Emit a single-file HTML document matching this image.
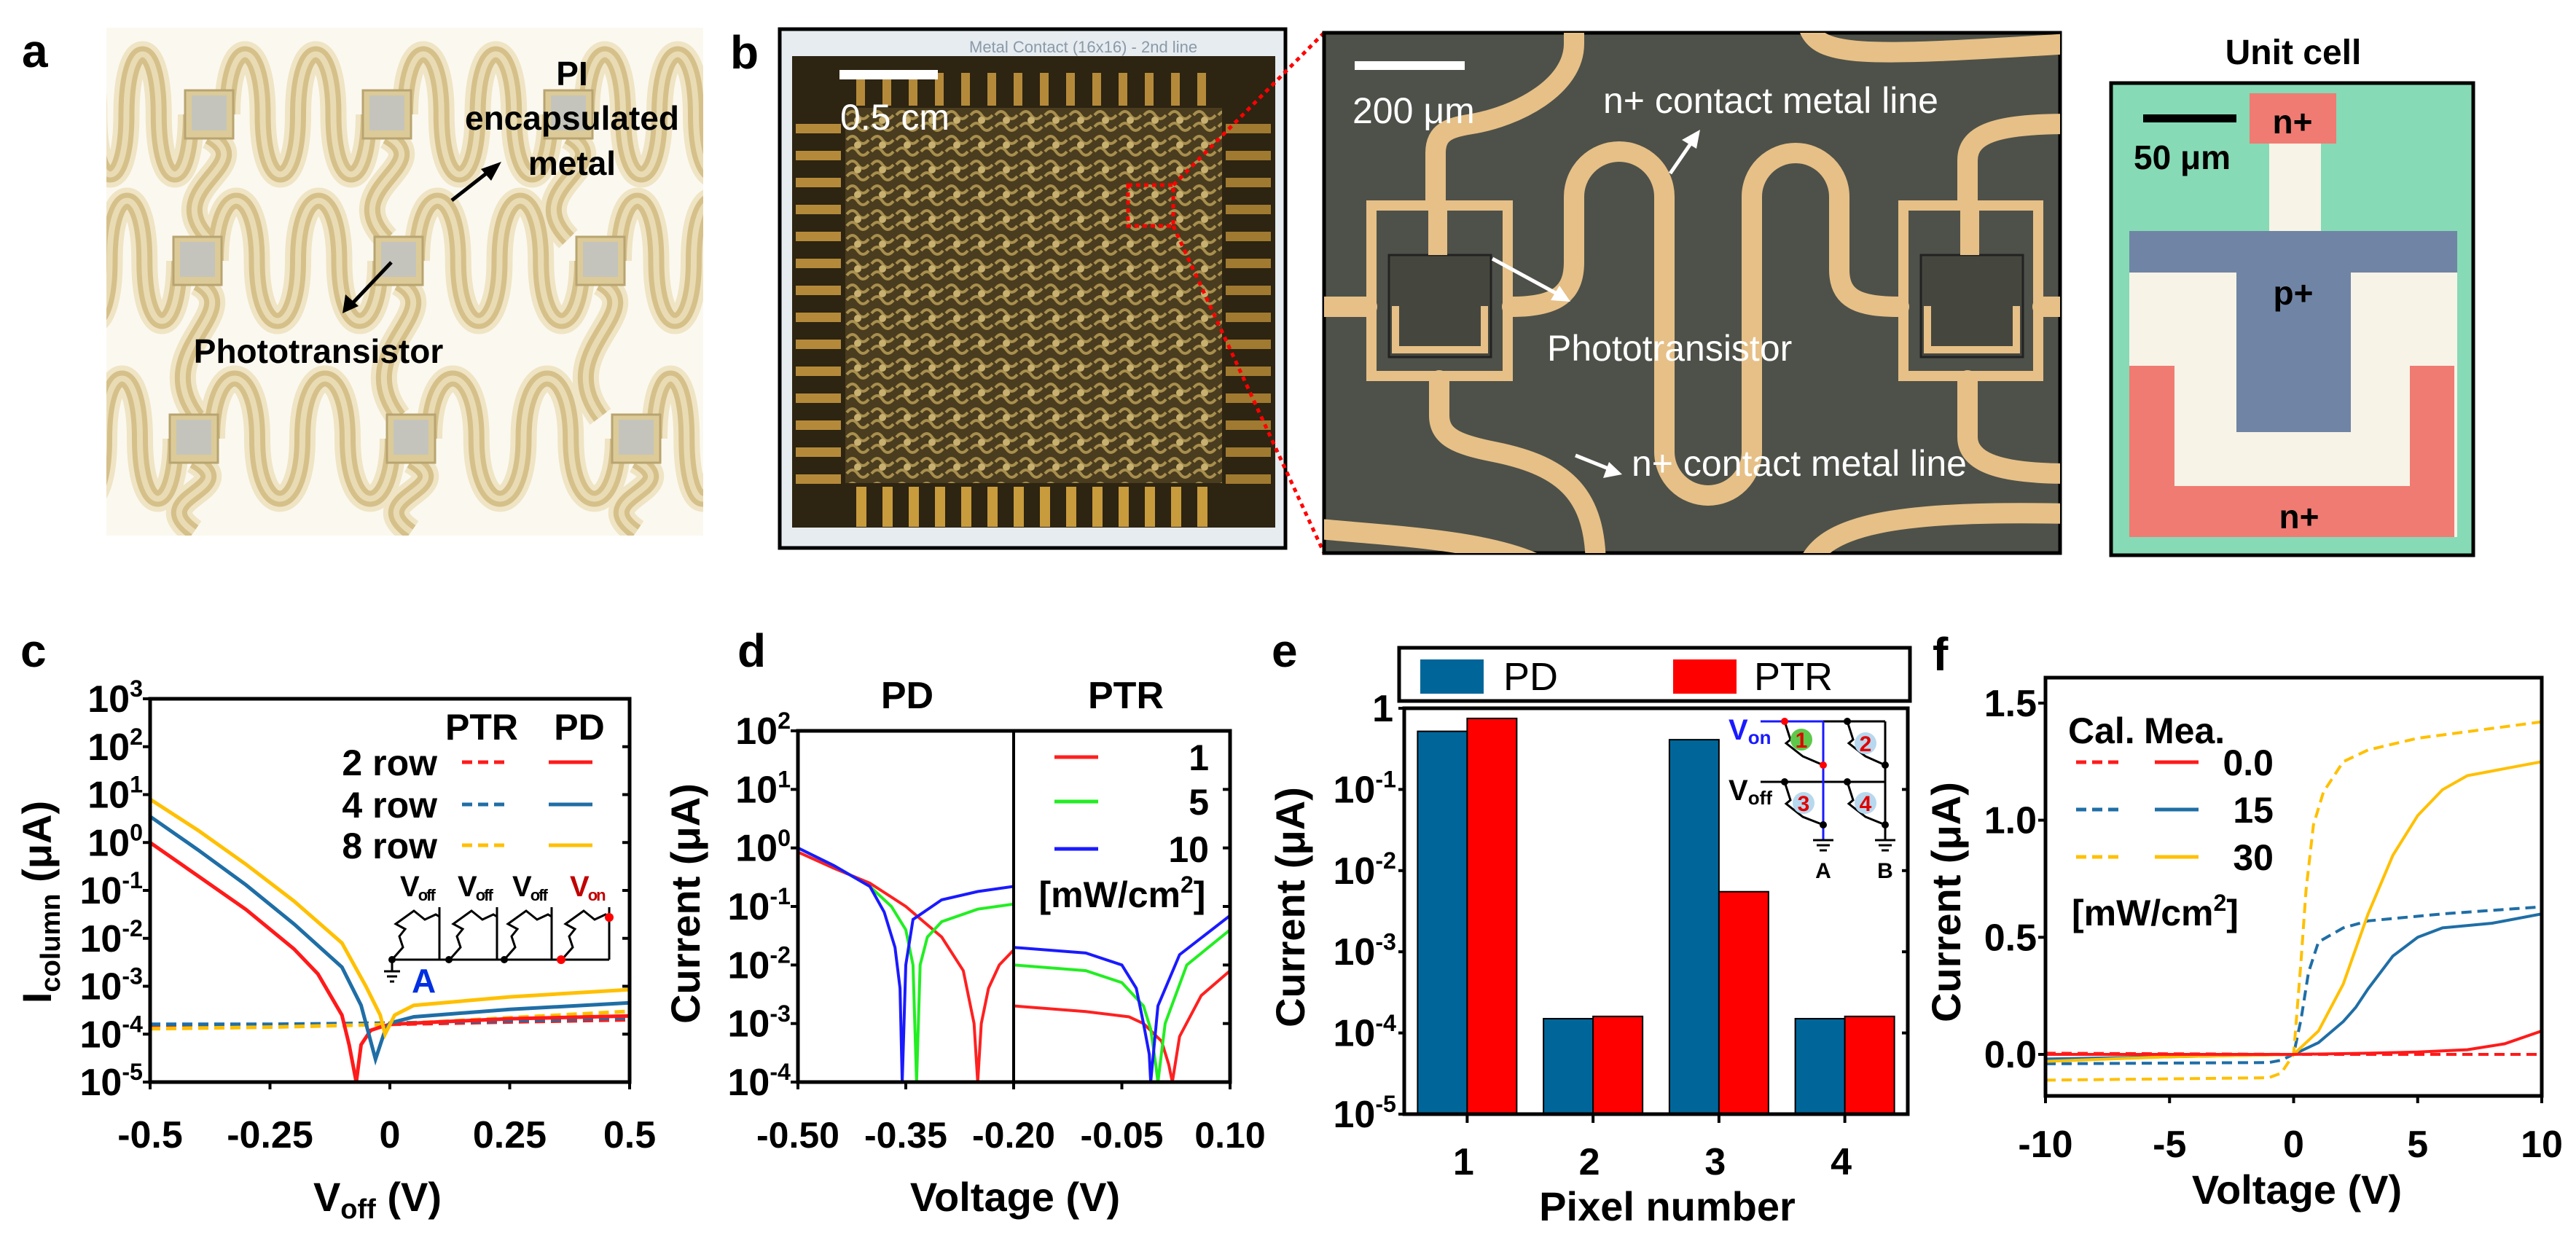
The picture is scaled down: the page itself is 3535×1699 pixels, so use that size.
<!DOCTYPE html>
<html><head><meta charset="utf-8"><style>
html,body{margin:0;padding:0;background:#fff;}
svg{display:block;font-family:"Liberation Sans",Arial,sans-serif;}
text{font-family:"Liberation Sans",Arial,sans-serif;}
</style></head><body>
<svg id="fig" width="3535" height="1699" viewBox="0 0 3535 1699" xmlns="http://www.w3.org/2000/svg">
<defs>
<clipPath id="clipA"><rect x="146" y="38" width="819" height="697"/></clipPath>
<clipPath id="clipM"><rect x="1817" y="45" width="1010" height="714"/></clipPath>
<pattern id="arr" x="1160" y="148" width="34" height="34" patternUnits="userSpaceOnUse">
<rect width="34" height="34" fill="#4a3c1e"/>
<path d="M2,10 Q10,0 17,10 T32,10 M2,26 Q10,16 17,26 T32,26" stroke="#a88f4e" stroke-width="4" fill="none"/>
<circle cx="17" cy="17" r="5" fill="#c8b070"/>
</pattern>
<clipPath id="clipC"><rect x="206" y="959" width="658" height="526"/></clipPath>
<clipPath id="clipD1"><rect x="1095" y="1003" width="296" height="482"/></clipPath>
<clipPath id="clipD2"><rect x="1391" y="1003" width="297" height="482"/></clipPath>
<clipPath id="clipF"><rect x="2807" y="930" width="681" height="574"/></clipPath>
</defs>

<text x="30" y="92" font-size="64" font-weight="bold">a</text>
<text x="1002" y="94" font-size="64" font-weight="bold">b</text>
<text x="28" y="915" font-size="64" font-weight="bold">c</text>
<text x="1012" y="915" font-size="64" font-weight="bold">d</text>
<text x="1745" y="915" font-size="64" font-weight="bold">e</text>
<text x="2652" y="920" font-size="64" font-weight="bold">f</text>

<g>
<rect x="146" y="38" width="819" height="697" fill="#fbf8ef"/>
<g id="aMeander" clip-path="url(#clipA)"></g>
<text x="785" y="117" font-size="46" font-weight="bold" text-anchor="middle">PI</text>
<text x="785" y="178" font-size="46" font-weight="bold" text-anchor="middle">encapsulated</text>
<text x="785" y="240" font-size="46" font-weight="bold" text-anchor="middle">metal</text>
<line x1="620" y1="275" x2="675" y2="232" stroke="#000" stroke-width="5"/>
<polygon points="688,222 660,232 674,248" fill="#000"/>
<line x1="537" y1="360" x2="482" y2="418" stroke="#000" stroke-width="5"/>
<polygon points="470,430 474,404 492,420" fill="#000"/>
<text x="437" y="498" font-size="46" font-weight="bold" text-anchor="middle">Phototransistor</text>
</g>

<g>
<rect x="1070" y="40" width="694" height="712" fill="#e6ecf0" stroke="#000" stroke-width="5"/>
<text x="1330" y="72" font-size="22" fill="#8a9aa8">Metal Contact (16x16) - 2nd line</text>
<rect x="1087" y="77" width="663" height="647" fill="#2d2412"/>
<g id="pads"></g>
<rect x="1160" y="148" width="517" height="515" fill="url(#arr)"/>
<rect x="1152" y="96" width="135" height="13" fill="#fff"/>
<text x="1153" y="178" font-size="50" fill="#fff">0.5 cm</text>
<rect x="1548" y="254" width="62" height="56" fill="none" stroke="#f00" stroke-width="5" stroke-dasharray="6,5"/>
</g>
<line x1="1610" y1="254" x2="1817" y2="45" stroke="#f00" stroke-width="5" stroke-dasharray="6,6"/>
<line x1="1610" y1="310" x2="1817" y2="759" stroke="#f00" stroke-width="5" stroke-dasharray="6,6"/>

<g>
<rect x="1817" y="45" width="1010" height="714" fill="#4e5149" stroke="#000" stroke-width="5"/>
<g clip-path="url(#clipM)" fill="none" stroke="#e6c087" stroke-width="28" stroke-linecap="round">
<path d="M1800,421 L1876,421 M2075,421 C2140,421 2160,400 2160,360 L2160,270 A62,62 0 0 1 2284,270 L2284,620 A60,60 0 0 0 2404,620 L2404,270 A60,60 0 0 1 2524,270 L2524,370 C2524,410 2550,421 2606,421 M2803,421 L2840,421"/>
<path d="M1970,276 L1970,210 C1970,180 1990,175 2020,170 C2080,160 2160,120 2160,60 L2160,30"/>
<path d="M1975,522 L1975,570 C1975,600 2000,610 2050,620 C2150,640 2190,680 2190,780"/>
<path d="M2480,30 C2490,80 2550,78 2840,60"/>
<path d="M1800,725 C1900,735 2050,740 2120,780"/>
<path d="M2700,276 L2700,220 C2700,180 2750,170 2840,170"/>
<path d="M2700,522 L2700,600 C2700,640 2760,650 2840,650"/>
<path d="M2480,780 C2500,720 2600,700 2840,705"/>
</g>
<g fill="none" stroke="#e6c087" stroke-width="14">
<rect x="1882" y="282" width="187" height="234"/>
<rect x="2612" y="282" width="185" height="234"/>
</g>
<rect x="1906" y="350" width="140" height="140" fill="#45473f" stroke="#222" stroke-width="3"/>
<rect x="2636" y="350" width="140" height="140" fill="#45473f" stroke="#222" stroke-width="3"/>
<path d="M1915,420 L1915,480 L2037,480 L2037,420" fill="none" stroke="#e6c087" stroke-width="10"/>
<path d="M2645,420 L2645,480 L2767,480 L2767,420" fill="none" stroke="#e6c087" stroke-width="10"/>
<rect x="1960" y="285" width="26" height="65" fill="#e6c087"/>
<rect x="2690" y="285" width="26" height="65" fill="#e6c087"/>
<rect x="1859" y="84" width="151" height="12" fill="#fff"/>
<text x="1856" y="169" font-size="50" fill="#fff">200 μm</text>
<text x="2200" y="155" font-size="50" fill="#fff">n+ contact metal line</text>
<line x1="2292" y1="238" x2="2325" y2="190" stroke="#fff" stroke-width="5"/>
<polygon points="2333,178 2308,192 2328,204" fill="#fff"/>
<text x="2123" y="495" font-size="50" fill="#fff">Phototransistor</text>
<line x1="2048" y1="355" x2="2140" y2="405" stroke="#fff" stroke-width="5"/>
<polygon points="2155,414 2128,412 2140,392" fill="#fff"/>
<text x="2239" y="653" font-size="50" fill="#fff">n+ contact metal line</text>
<line x1="2162" y1="625" x2="2212" y2="645" stroke="#fff" stroke-width="5"/>
<polygon points="2226,651 2200,656 2208,634" fill="#fff"/>
</g>

<g>
<text x="3147" y="88" font-size="48" font-weight="bold" text-anchor="middle">Unit cell</text>
<rect x="2897" y="114" width="497" height="648" fill="#86dab6" stroke="#000" stroke-width="5"/>
<rect x="2922" y="317" width="450" height="420" fill="#f7f3e6"/>
<rect x="3114" y="197" width="71" height="120" fill="#f7f3e6"/>
<rect x="3087" y="128" width="119" height="69" fill="#ef7b73"/>
<path d="M2922,502 L2984,502 L2984,667 L3307,667 L3307,502 L3368,502 L3368,737 L2922,737 Z" fill="#ef7b73"/>
<rect x="2922" y="317" width="450" height="57" fill="#7085a5"/>
<rect x="3069" y="374" width="157" height="219" fill="#7085a5"/>
<rect x="2941" y="157" width="128" height="11" fill="#000"/>
<text x="2928" y="232" font-size="46" font-weight="bold">50 μm</text>
<text x="3146" y="183" font-size="46" font-weight="bold" text-anchor="middle">n+</text>
<text x="3147" y="418" font-size="46" font-weight="bold" text-anchor="middle">p+</text>
<text x="3155" y="725" font-size="46" font-weight="bold" text-anchor="middle">n+</text>
</g>

<g id="charts"></g>
</svg>

<script>
const cXTicks = [-0.5, -0.25, 0, 0.25, 0.5];
const cXTickLabels = ["-0.5", "-0.25", "0", "0.25", "0.5"];
const cYDecades = [-5, -4, -3, -2, -1, 0, 1, 2, 3];
const c2rowPD_x = [-0.5, -0.4, -0.3, -0.2, -0.15, -0.1, -0.085, -0.07, -0.06, -0.04, -0.02, 0, 0.1, 0.25, 0.5];
const c2rowPD_y = [1, 0.2, 0.04, 0.006, 0.0018, 0.00025, 0.00006, 0.00001, 0.00006, 0.00012, 0.00014, 0.00016, 0.00018, 0.00021, 0.00024];
const c4rowPD_x = [-0.5, -0.4, -0.3, -0.2, -0.1, -0.06, -0.03, -0.01, 0, 0.05, 0.25, 0.5];
const c4rowPD_y = [3.5, 0.7, 0.13, 0.02, 0.0025, 0.0004, 0.00003, 0.00012, 0.00017, 0.00023, 0.00033, 0.00045];
const c8rowPD_x = [-0.5, -0.4, -0.3, -0.2, -0.1, -0.05, -0.02, -0.01, 0.01, 0.05, 0.25, 0.5];
const c8rowPD_y = [8, 1.8, 0.35, 0.06, 0.008, 0.001, 0.00025, 0.0001, 0.00025, 0.0004, 0.0006, 0.00085];
const cPTR_x = [-0.5, -0.25, 0, 0.25, 0.5];
const c2rowPTR_y = [0.00015, 0.00015, 0.00016, 0.00018, 0.0002];
const c4rowPTR_y = [0.00016, 0.00016, 0.00017, 0.00019, 0.00022];
const c8rowPTR_y = [0.00013, 0.00014, 0.00016, 0.00022, 0.0003];

const dPDTicks = [-0.5, -0.35, -0.2];
const dPDTickLabels = ["-0.50", "-0.35", "-0.20"];
const dPTRTicks = [-0.05, 0.1];
const dPTRTickLabels = ["-0.05", "0.10"];
const dYDecades = [-4, -3, -2, -1, 0, 1, 2];
const dPD1_x = [-0.5, -0.45, -0.4, -0.35, -0.3, -0.27, -0.255, -0.25, -0.245, -0.235, -0.22, -0.2];
const dPD1_y = [0.85, 0.45, 0.25, 0.1, 0.03, 0.008, 0.001, 0.0001, 0.001, 0.004, 0.01, 0.018];
const dPD5_x = [-0.5, -0.45, -0.4, -0.37, -0.35, -0.34, -0.335, -0.33, -0.32, -0.3, -0.25, -0.2];
const dPD5_y = [1, 0.5, 0.22, 0.1, 0.04, 0.01, 0.0001, 0.01, 0.03, 0.055, 0.09, 0.11];
const dPD10_x = [-0.5, -0.45, -0.4, -0.38, -0.365, -0.358, -0.355, -0.35, -0.34, -0.3, -0.25, -0.2];
const dPD10_y = [1, 0.5, 0.22, 0.08, 0.02, 0.004, 0.0001, 0.01, 0.06, 0.13, 0.18, 0.22];
const dPTR1_x = [-0.2, -0.1, -0.04, -0.02, 0.005, 0.015, 0.02, 0.03, 0.06, 0.1];
const dPTR1_y = [0.002, 0.0016, 0.0013, 0.001, 0.0005, 0.0002, 0.0001, 0.0006, 0.003, 0.008];
const dPTR5_x = [-0.2, -0.1, -0.05, -0.02, -0.01, -0.003, 0.0, 0.01, 0.04, 0.1];
const dPTR5_y = [0.01, 0.008, 0.005, 0.002, 0.0008, 0.0002, 0.0001, 0.001, 0.01, 0.04];
const dPTR10_x = [-0.2, -0.1, -0.05, -0.03, -0.02, -0.012, -0.01, 0.0, 0.03, 0.1];
const dPTR10_y = [0.02, 0.016, 0.01, 0.004, 0.001, 0.0003, 0.0001, 0.002, 0.015, 0.07];

const eCategories = ["1", "2", "3", "4"];
const ePD = [0.52, 0.00015, 0.41, 0.00015];
const ePTR = [0.75, 0.00016, 0.0055, 0.00016];
const eYDecades = [-5, -4, -3, -2, -1, 0];

const fXTicks = [-10, -5, 0, 5, 10];
const fYTicks = [0, 0.5, 1.0, 1.5];
const fYTickLabels = ["0.0", "0.5", "1.0", "1.5"];
const f0Mea_x = [-10, -5, 0, 3, 5, 7, 8.5, 10];
const f0Mea_y = [0.0, 0.0, 0.0, 0.005, 0.01, 0.02, 0.045, 0.1];
const f0Cal_x = [-10, 0, 10];
const f0Cal_y = [0.005, 0.0, 0.0];
const f15Cal_x = [-10, -1, -0.5, 0, 0.3, 0.6, 1, 2, 3, 6, 10];
const f15Cal_y = [-0.04, -0.035, -0.025, 0, 0.15, 0.35, 0.48, 0.54, 0.57, 0.6, 0.63];
const f15Mea_x = [-10, -5, 0, 1, 2, 2.5, 3, 4, 5, 6, 8, 10];
const f15Mea_y = [-0.02, -0.01, 0, 0.05, 0.14, 0.2, 0.28, 0.42, 0.5, 0.54, 0.56, 0.6];
const f30Cal_x = [-10, -1, -0.5, 0, 0.3, 0.5, 0.8, 1.2, 2, 3, 5, 10];
const f30Cal_y = [-0.11, -0.1, -0.08, 0, 0.4, 0.7, 0.98, 1.12, 1.25, 1.3, 1.35, 1.42];
const f30Mea_x = [-10, -5, 0, 1, 2, 2.5, 3, 4, 5, 6, 7, 8, 10];
const f30Mea_y = [-0.03, -0.01, 0, 0.1, 0.3, 0.45, 0.6, 0.85, 1.02, 1.13, 1.19, 1.21, 1.25];

const NS = "http://www.w3.org/2000/svg";
const root = document.getElementById("charts");
function mk(tag, attrs, parent) {
  const e = document.createElementNS(NS, tag);
  for (const k in attrs) e.setAttribute(k, attrs[k]);
  (parent || root).appendChild(e);
  return e;
}
function txt(x, y, s, size, anchor, parent, weight) {
  const t = mk("text", {x: x, y: y, "font-size": size, "text-anchor": anchor || "start", "font-weight": weight || "bold"}, parent);
  t.textContent = s;
  return t;
}
function powLabel(x, y, exp, size, parent) {
  const t = mk("text", {x: x, y: y, "font-size": size, "text-anchor": "end", "font-weight": "bold"}, parent);
  const a = document.createElementNS(NS, "tspan"); a.textContent = "10"; t.appendChild(a);
  const b = document.createElementNS(NS, "tspan"); b.setAttribute("dy", -size * 0.4); b.setAttribute("font-size", size * 0.62); b.textContent = String(exp); t.appendChild(b);
  return t;
}
function polyPath(xs, ys, fx, fy) {
  let d = "";
  for (let i = 0; i < xs.length; i++) d += (i ? "L" : "M") + fx(xs[i]).toFixed(1) + "," + fy(ys[i]).toFixed(1);
  return d;
}

(function () {
  const g = mk("g", {});  
  const X = v => 206 + (v + 0.5) * 658;
  const Y = lg => 1485 - (lg + 5) * 65.75;
  const Yv = v => Y(Math.log10(v));
  const cg = mk("g", {"clip-path": "url(#clipC)", fill: "none", "stroke-width": 5}, g);
  const series = [
    [cPTR_x, c2rowPTR_y, "#ff1a1a", true, "c-2row-ptr"], [cPTR_x, c4rowPTR_y, "#1f6ea6", true, "c-4row-ptr"], [cPTR_x, c8rowPTR_y, "#ffc000", true, "c-8row-ptr"],
    [c2rowPD_x, c2rowPD_y, "#ff1a1a", false, "c-2row-pd"], [c4rowPD_x, c4rowPD_y, "#1f6ea6", false, "c-4row-pd"], [c8rowPD_x, c8rowPD_y, "#ffc000", false, "c-8row-pd"]];
  series.forEach(s => {
    const p = mk("path", {d: polyPath(s[0], s[1], X, Yv), stroke: s[2]}, cg);
    if (s[3]) p.setAttribute("stroke-dasharray", "14,8");
    
    
  });
  mk("rect", {x: 206, y: 959, width: 658, height: 526, fill: "none", stroke: "#000", "stroke-width": 5}, g);
  cYDecades.forEach(d => {
    mk("line", {x1: 196, x2: 206, y1: Y(d), y2: Y(d), stroke: "#000", "stroke-width": 4}, g);
    mk("line", {x1: 864, x2: 854, y1: Y(d), y2: Y(d), stroke: "#000", "stroke-width": 4}, g);
    const t = powLabel(196, Y(d) + 18, d, 52, g);
     
  });
  cXTicks.forEach((v, i) => {
    mk("line", {x1: X(v), x2: X(v), y1: 1485, y2: 1495, stroke: "#000", "stroke-width": 4}, g);
    const t = txt(X(v), 1575, cXTickLabels[i], 52, "middle", g);
     
  });
  const yt = mk("text", {transform: "translate(70,1238) rotate(-90)", "font-size": 56, "text-anchor": "middle", "font-weight": "bold"}, g);
  yt.innerHTML = 'I<tspan font-size="38" dy="12">column</tspan><tspan dy="-12"> (μA)</tspan>';
   
  const xt = mk("text", {x: 518, y: 1662, "font-size": 56, "text-anchor": "middle", "font-weight": "bold"}, g);
  xt.innerHTML = 'V<tspan font-size="38" dy="10">off</tspan><tspan dy="-10"> (V)</tspan>';
   
  const lg = mk("g", {}, g);  
  txt(661, 1015, "PTR", 50, "middle", lg); txt(795, 1015, "PD", 50, "middle", lg);
  [["2 row", "#ff1a1a", 1046], ["4 row", "#1f6ea6", 1104], ["8 row", "#ffc000", 1160]].forEach(r => {
    const t = txt(600, r[2] + 18, r[0], 50, "end", lg);
     
    mk("line", {x1: 634, x2: 694, y1: r[2], y2: r[2], stroke: r[1], "stroke-width": 5, "stroke-dasharray": "14,8"}, lg);
    mk("line", {x1: 753, x2: 813, y1: r[2], y2: r[2], stroke: r[1], "stroke-width": 5}, lg);
  });
  const ic = mk("g", {stroke: "#000", "stroke-width": 3, fill: "none"}, g);
   
  const cols = [603, 682, 757, 836];
  mk("line", {x1: 538, x2: 836, y1: 1317, y2: 1317}, ic);
  cols.forEach((cx, i) => {
    mk("line", {x1: cx, x2: cx, y1: 1245, y2: 1317}, ic);
    const x0 = cx - 65;
    mk("path", {d: `M${x0},1317 L${x0+15},1300 L${x0+10},1285 L${x0+18},1275 L${x0+5},1268 L${x0+30},1250 L${x0+45},1262 L${x0+60},1255 L${cx},1258`}, ic);
    const lab = mk("text", {x: cx - 54, y: 1230, "font-size": 40, "font-weight": "bold", fill: i === 3 ? "#c00000" : "#000", stroke: "none", "letter-spacing": "-2"}, g);
    lab.innerHTML = 'V<tspan font-size="22" dy="6">' + (i === 3 ? "on" : "off") + '</tspan>';
  });
  mk("circle", {cx: 836, cy: 1259, r: 6, fill: "#f00", stroke: "none"}, g);
  mk("circle", {cx: 770, cy: 1317, r: 6, fill: "#f00", stroke: "none"}, g);
  [538, 616, 692].forEach(x => mk("circle", {cx: x, cy: 1317, r: 5, fill: "#000", stroke: "none"}, g));
  mk("path", {d: "M538,1317 L538,1333 M527,1333 L549,1333 M531,1340 L545,1340 M535,1347 L541,1347", stroke: "#000", "stroke-width": 3}, g);
  txt(565, 1362, "A", 46, "start", g).setAttribute("fill", "#0030e0");
})();

(function () {
  const g = mk("g", {});  
  const X1 = v => 1095 + (v + 0.5) / 0.3 * 296;
  const X2 = v => 1391 + (v + 0.2) / 0.3 * 297;
  const Y = lg => 1485 - (lg + 4) * 80.33;
  const Yv = v => Y(Math.log10(v));
  const g1 = mk("g", {"clip-path": "url(#clipD1)", fill: "none", "stroke-width": 4}, g);
  const g2 = mk("g", {"clip-path": "url(#clipD2)", fill: "none", "stroke-width": 4}, g);
  [[dPD1_x, dPD1_y, "#ff2020", "d-pd-1"], [dPD5_x, dPD5_y, "#22ee22", "d-pd-5"], [dPD10_x, dPD10_y, "#1a1aff", "d-pd-10"]].forEach(s => {
    const p = mk("path", {d: polyPath(s[0], s[1], X1, Yv), stroke: s[2]}, g1);
     
  });
  [[dPTR1_x, dPTR1_y, "#ff2020", "d-ptr-1"], [dPTR5_x, dPTR5_y, "#22ee22", "d-ptr-5"], [dPTR10_x, dPTR10_y, "#1a1aff", "d-ptr-10"]].forEach(s => {
    const p = mk("path", {d: polyPath(s[0], s[1], X2, Yv), stroke: s[2]}, g2);
     
  });
  mk("rect", {x: 1095, y: 1003, width: 593, height: 482, fill: "none", stroke: "#000", "stroke-width": 5}, g);
  mk("line", {x1: 1391, x2: 1391, y1: 1003, y2: 1485, stroke: "#000", "stroke-width": 4}, g);
  dYDecades.forEach(d => {
    mk("line", {x1: 1085, x2: 1095, y1: Y(d), y2: Y(d), stroke: "#000", "stroke-width": 4}, g);
    mk("line", {x1: 1688, x2: 1678, y1: Y(d), y2: Y(d), stroke: "#000", "stroke-width": 4}, g);
    const t = powLabel(1085, Y(d) + 18, d, 52, g);
     
  });
  dPDTicks.forEach((v, i) => {
    mk("line", {x1: X1(v), x2: X1(v), y1: 1485, y2: 1495, stroke: "#000", "stroke-width": 4}, g);
    const t = txt(X1(v), 1575, dPDTickLabels[i], 50, "middle", g);
     
  });
  dPTRTicks.forEach((v, i) => {
    mk("line", {x1: X2(v), x2: X2(v), y1: 1485, y2: 1495, stroke: "#000", "stroke-width": 4}, g);
    const t = txt(X2(v), 1575, dPTRTickLabels[i], 50, "middle", g);
     
  });
  txt(1245, 972, "PD", 52, "middle", g);
  txt(1545, 972, "PTR", 52, "middle", g);
  const yt = txt(0, 0, "Current (μA)", 56, "middle", g);
  yt.setAttribute("transform", "translate(960,1240) rotate(-90)");
   
  const xt = txt(1393, 1662, "Voltage (V)", 56, "middle", g);
   
  const lg = mk("g", {}, g);  
  [["1", "#ff2020", 1039], ["5", "#22ee22", 1100], ["10", "#1a1aff", 1165]].forEach(r => {
    mk("line", {x1: 1447, x2: 1507, y1: r[2], y2: r[2], stroke: r[1], "stroke-width": 5}, lg);
    const t = txt(1659, r[2] + 18, r[0], 50, "end", lg);
     
  });
  const u = mk("text", {x: 1540, y: 1245, "font-size": 50, "text-anchor": "middle", "font-weight": "bold"}, lg);
  u.innerHTML = '[mW/cm<tspan font-size="32" dy="-20">2</tspan><tspan dy="20">]</tspan>';
})();

(function () {
  const g = mk("g", {});  
  const x0 = 1927, x1 = 2618, yTop = 972, yBot = 1529;
  const Y = lg => yBot - (lg + 5) * 111.4;
  const step = (x1 - x0) / eCategories.length;
  const Xc = i => x0 + step * (i + 0.5);
  const bw = 68;
  eCategories.forEach((c, i) => {
    const b1 = mk("rect", {x: Xc(i) - bw, y: Y(Math.log10(ePD[i])), width: bw, height: yBot - Y(Math.log10(ePD[i])), fill: "#006699", stroke: "#000", "stroke-width": 2}, g);
     
    const b2 = mk("rect", {x: Xc(i), y: Y(Math.log10(ePTR[i])), width: bw, height: yBot - Y(Math.log10(ePTR[i])), fill: "#ff0000", stroke: "#000", "stroke-width": 2}, g);
     
    mk("line", {x1: Xc(i), x2: Xc(i), y1: yBot, y2: yBot + 12, stroke: "#000", "stroke-width": 4}, g);
    const t = txt(Xc(i) - 5, 1612, c, 52, "middle", g);
     
  });
  mk("rect", {x: x0, y: yTop, width: x1 - x0, height: yBot - yTop, fill: "none", stroke: "#000", "stroke-width": 5}, g);
  eYDecades.forEach(d => {
    mk("line", {x1: x0 - 8, x2: x0, y1: Y(d), y2: Y(d), stroke: "#000", "stroke-width": 4}, g);
    mk("line", {x1: x1, x2: x1 - 8, y1: Y(d), y2: Y(d), stroke: "#000", "stroke-width": 4}, g);
    let t;
    if (d === 0) t = txt(1912, Y(d) + 18, "1", 52, "end", g);
    else t = powLabel(1916, Y(d) + 18, d, 52, g);
     
  });
  const yt = txt(0, 0, "Current (μA)", 56, "middle", g);
  yt.setAttribute("transform", "translate(1790,1245) rotate(-90)");
   
  const xt = txt(2288, 1675, "Pixel number", 56, "middle", g);
   
  const lg = mk("g", {}, g);  
  mk("rect", {x: 1920, y: 889, width: 701, height: 73, fill: "#fff", stroke: "#000", "stroke-width": 5}, lg);
  mk("rect", {x: 1949, y: 905, width: 87, height: 47, fill: "#006699"}, lg);
  txt(2063, 947, "PD", 54, "start", lg, "normal");
  mk("rect", {x: 2296, y: 905, width: 87, height: 47, fill: "#ff0000"}, lg);
  txt(2407, 947, "PTR", 54, "start", lg, "normal");
  const ic = mk("g", {stroke: "#000", "stroke-width": 3, fill: "none"}, g);
   
  mk("line", {x1: 2416, x2: 2502, y1: 990, y2: 990, stroke: "#1a1aff"}, ic);
  mk("line", {x1: 2502, x2: 2587, y1: 990, y2: 990}, ic);
  mk("line", {x1: 2416, x2: 2587, y1: 1073, y2: 1073}, ic);
  mk("line", {x1: 2502, x2: 2502, y1: 990, y2: 1153, stroke: "#1a1aff"}, ic);
  mk("line", {x1: 2587, x2: 2587, y1: 990, y2: 1153}, ic);
  [[2449, 990, 2502, 1050], [2535, 990, 2587, 1050], [2449, 1073, 2502, 1132], [2535, 1073, 2587, 1132]].forEach(s => {
    mk("path", {d: `M${s[0]},${s[1]} L${s[0]+8},${s[1]+25} L${s[0]+2},${s[1]+30} L${s[0]+25},${s[1]+48} L${s[2]},${s[3]}`}, ic);
  });
  [[2472, 1015, "#5ec84a"], [2560, 1020, "#b7d8ee"], [2475, 1102, "#b7d8ee"], [2560, 1102, "#b7d8ee"]].forEach((p, i) => {
    mk("circle", {cx: p[0], cy: p[1], r: 15, fill: p[2], stroke: "none"}, g);
    const t = txt(p[0], p[1] + 11, String(i + 1), 30, "middle", g); t.setAttribute("fill", "#e00000");
  });
  mk("circle", {cx: 2449, cy: 990, r: 5, fill: "#f00", stroke: "none"}, g);
  mk("circle", {cx: 2502, cy: 1050, r: 5, fill: "#f00", stroke: "none"}, g);
  [[2535, 990], [2587, 1050], [2449, 1073], [2535, 1073], [2502, 1132], [2587, 1132]].forEach(p => mk("circle", {cx: p[0], cy: p[1], r: 5, fill: "#000", stroke: "none"}, g));
  [2502, 2587].forEach(x => mk("path", {d: `M${x-14},1153 L${x+14},1153 M${x-9},1160 L${x+9},1160 M${x-5},1167 L${x+5},1167`, stroke: "#000", "stroke-width": 3}, g));
  const von = mk("text", {x: 2372, y: 1015, "font-size": 40, "font-weight": "bold", fill: "#1a1aff"}, g);
  von.innerHTML = 'V<tspan font-size="26" dy="6">on</tspan>';
  const voff = mk("text", {x: 2372, y: 1098, "font-size": 40, "font-weight": "bold"}, g);
  voff.innerHTML = 'V<tspan font-size="26" dy="6">off</tspan>';
  txt(2502, 1205, "A", 30, "middle", g); txt(2587, 1205, "B", 30, "middle", g);
})();

(function () {
  const g = mk("g", {});  
  const X = v => 2807 + (v + 10) * 34.05;
  const Y = v => 1447 - v * 321.4;
  const cg = mk("g", {"clip-path": "url(#clipF)", fill: "none", "stroke-width": 4}, g);
  [[f0Cal_x, f0Cal_y, "#ff1a1a", true, "f-0-cal"], [f15Cal_x, f15Cal_y, "#1f6ea6", true, "f-15-cal"], [f30Cal_x, f30Cal_y, "#ffc000", true, "f-30-cal"],
   [f15Mea_x, f15Mea_y, "#1f6ea6", false, "f-15-mea"], [f30Mea_x, f30Mea_y, "#ffc000", false, "f-30-mea"], [f0Mea_x, f0Mea_y, "#ff1a1a", false, "f-0-mea"]].forEach(s => {
    const p = mk("path", {d: polyPath(s[0], s[1], X, Y), stroke: s[2]}, cg);
    if (s[3]) p.setAttribute("stroke-dasharray", "14,8");
     
  });
  mk("rect", {x: 2807, y: 930, width: 681, height: 574, fill: "none", stroke: "#000", "stroke-width": 5}, g);
  fYTicks.forEach((v, i) => {
    mk("line", {x1: 2797, x2: 2807, y1: Y(v), y2: Y(v), stroke: "#000", "stroke-width": 4}, g);
    const t = txt(2795, Y(v) + 18, fYTickLabels[i], 52, "end", g);
     
  });
  fXTicks.forEach(v => {
    mk("line", {x1: X(v), x2: X(v), y1: 1504, y2: 1514, stroke: "#000", "stroke-width": 4}, g);
    const t = txt(X(v), 1588, String(v), 52, "middle", g);
     
  });
  const yt = txt(0, 0, "Current (μA)", 56, "middle", g);
  yt.setAttribute("transform", "translate(2690,1238) rotate(-90)");
   
  const xt = txt(3152, 1652, "Voltage (V)", 56, "middle", g);
   
  const lg = mk("g", {}, g);  
  txt(2838, 1020, "Cal.", 50, "start", lg); txt(2942, 1020, "Mea.", 50, "start", lg);
  [["0.0", "#ff1a1a", 1046], ["15", "#1f6ea6", 1111], ["30", "#ffc000", 1176]].forEach(r => {
    mk("line", {x1: 2849, x2: 2914, y1: r[2], y2: r[2], stroke: r[1], "stroke-width": 5, "stroke-dasharray": "14,8"}, lg);
    mk("line", {x1: 2957, x2: 3017, y1: r[2], y2: r[2], stroke: r[1], "stroke-width": 5}, lg);
    const t = txt(3120, r[2] + 18, r[0], 50, "end", lg);
     
  });
  const u = mk("text", {x: 2843, y: 1270, "font-size": 50, "font-weight": "bold"}, lg);
  u.innerHTML = '[mW/cm<tspan font-size="32" dy="-20">2</tspan><tspan dy="20">]</tspan>';
})();

(function () {
  const g = document.getElementById("aMeander");
  const rows = [157, 358, 602];
  const px = [[60, 287, 531, 780, 1030], [30, 271, 547, 824, 1080], [20, 266, 564, 873, 1100]];
  let d = "";
  rows.forEach((y, r) => {
    const xs = px[r];
    for (let i = 0; i < xs.length - 1; i++) {
      const a = xs[i] + 25, b = xs[i + 1] - 25, w = (b - a) / 4;
      d += `M${a},${y} `;
      for (let k = 0; k < 4; k++) {
        const s = k % 2 ? 1 : -1;
        d += `C${a + w * k},${y + s * 110} ${a + w * (k + 1)},${y + s * 110} ${a + w * (k + 1)},${y} `;
      }
      const yy = r < 2 ? rows[r + 1] : 760;
      d += `M${xs[i + 1]},${y + 30} C${xs[i + 1] + 70},${y + 70} ${xs[i + 1] - 70},${(y + yy) / 2} ${xs[i + 1]},${yy - 30} `;
    }
  });
  mk("path", {d: d, fill: "none", stroke: "#efe4c4", "stroke-width": 36}, g);
  mk("path", {d: d, fill: "none", stroke: "#d6c08a", "stroke-width": 22}, g);
  mk("path", {d: d, fill: "none", stroke: "#e9dcb4", "stroke-width": 8}, g);
  rows.forEach((y, r) => px[r].forEach(x => {
    mk("rect", {x: x - 33, y: y - 33, width: 66, height: 66, fill: "#dccb98", stroke: "#b8a470", "stroke-width": 3}, g);
    mk("rect", {x: x - 24, y: y - 26, width: 48, height: 48, fill: "#c4c4bc"}, g);
  }));
  const p = document.getElementById("pads");
  for (let i = 0; i < 14; i++) {
    const x = 1175 + i * 36;
    mk("rect", {x: x, y: 100, width: 12, height: 45, fill: "#b48a3a"}, p);
    mk("rect", {x: x, y: 668, width: 14, height: 55, fill: "#c89b3c"}, p);
  }
  for (let i = 0; i < 14; i++) {
    const y = 170 + i * 37;
    mk("rect", {x: 1092, y: y, width: 62, height: 13, fill: "#b48a3a"}, p);
    mk("rect", {x: 1682, y: y, width: 62, height: 13, fill: "#a07a30"}, p);
  }
})();
</script>
</body></html>
